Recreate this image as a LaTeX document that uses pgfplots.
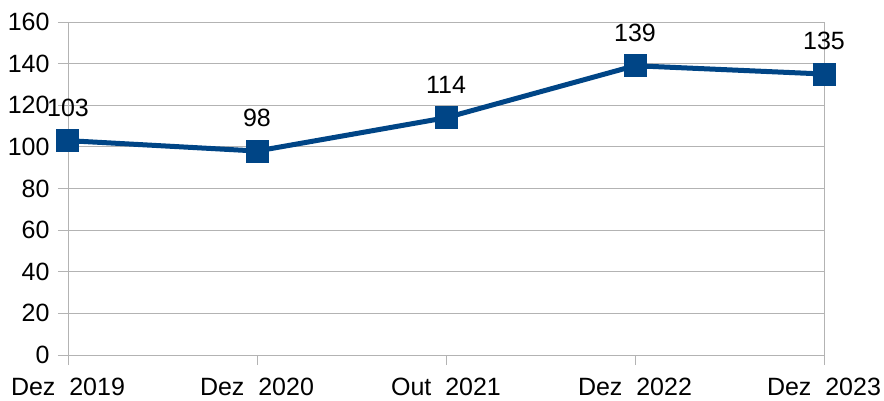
\documentclass[border=0pt]{standalone}
\usepackage{fontspec}
\setmainfont{Liberation Sans}
\usepackage{pgfplots}
\pgfplotsset{compat=1.18}
\definecolor{lineblue}{HTML}{004586}
\definecolor{gridgray}{HTML}{B3B3B3}
\begin{document}
\fontsize{25}{29}\selectfont
\begin{tikzpicture}
\begin{axis}[
  at={(0,0)}, anchor=origin,
  scale only axis,
  width=756pt, height=333pt,
  xmin=0, xmax=4, ymin=0, ymax=160,
  xtick={0,1,2,3,4},
  xticklabels={Dez\ \ 2019,Dez\ \ 2020,Out\ \ 2021,Dez\ \ 2022,Dez\ \ 2023},
  ytick={0,20,...,160},
  ymajorgrids,
  grid style={gridgray, line width=0.9pt},
  axis line style={gridgray, line width=0.9pt},
  tick style={gridgray, line width=0.9pt},
  tick align=outside,
  major tick length=10pt,
  xtick pos=bottom, ytick pos=left,
  /pgf/number format/assume math mode=true,
  ticklabel style={font=\fontsize{25}{29}\selectfont, text=black},
  yticklabel style={xshift=0pt},
  xticklabel style={yshift=-5pt},
  clip=false,
  nodes near coords,
  every node near coord/.append style={font=\fontsize{25}{29}\selectfont, text=black, yshift=13pt},
]
\addplot[color=lineblue, line width=5pt, mark=square*, mark size=9pt, mark options={solid}]
  coordinates {(0,103) (1,98) (2,114) (3,139) (4,135)};
\end{axis}
\pgfresetboundingbox
\path (-68pt,-45pt) rectangle (816pt,355pt);
\end{tikzpicture}
\end{document}
